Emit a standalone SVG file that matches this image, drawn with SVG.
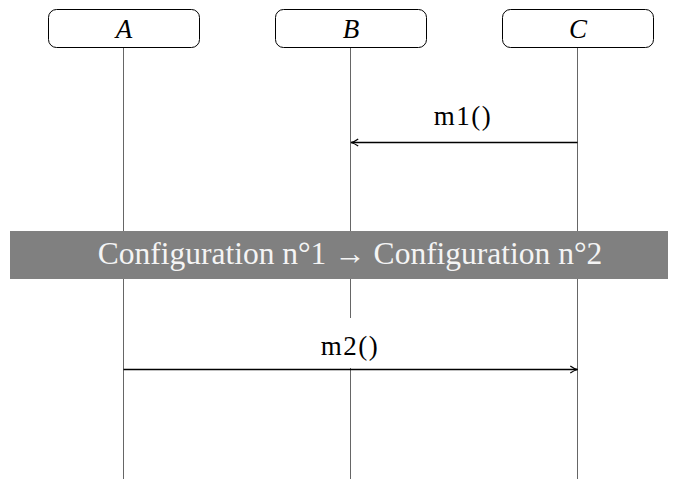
<svg xmlns="http://www.w3.org/2000/svg" width="678" height="479" viewBox="0 0 678 479">
<defs>
<style>
.box{fill:#fff;stroke:#000;stroke-width:1}
.life{stroke:#666;stroke-width:1}
.msg{stroke:#000;stroke-width:1.6;fill:none}
.t{font-family:"Liberation Serif",serif;font-size:27px;fill:#000;text-anchor:middle}
.it{font-style:italic}
.cfg{font-size:31.5px;fill:#f4f4f4}
</style>
<marker id="ah" viewBox="0 0 10 10" refX="9" refY="5" markerWidth="9" markerHeight="9" markerUnits="userSpaceOnUse" orient="auto">
<path d="M1,1 Q5,4 9,5 Q5,6 1,9" fill="none" stroke="#000" stroke-width="1.4"/>
</marker>
</defs>
<rect width="678" height="479" fill="#fff"/>
<g id="lifelines">
<line class="life" x1="123.5" y1="48" x2="123.5" y2="479"/>
<line class="life" x1="350.5" y1="48" x2="350.5" y2="479"/>
<line class="life" x1="577.5" y1="48" x2="577.5" y2="479"/>
</g>
<g id="A"><rect class="box" x="48.5" y="9.5" width="151" height="38" rx="8"/><text class="t it" x="124" y="38">A</text></g>
<g id="B"><rect class="box" x="275.5" y="9.5" width="151" height="38" rx="8"/><text class="t it" x="351" y="38">B</text></g>
<g id="C"><rect class="box" x="502.5" y="9.5" width="151" height="38" rx="8"/><text class="t it" x="578" y="38">C</text></g>
<g id="connectors">
<line class="msg" x1="577.5" y1="142.5" x2="351" y2="142.5" marker-end="url(#ah)"/>
<text class="t" x="463" y="125" letter-spacing="1.5">m1()</text>
<rect x="312" y="318" width="76" height="50" fill="#fff"/>
<line class="msg" x1="123.5" y1="369.5" x2="577.5" y2="369.5" marker-end="url(#ah)"/>
<text class="t" x="350" y="355" letter-spacing="1.5">m2()</text>
</g>
<g id="config">
<rect x="10" y="231" width="658" height="48" fill="#808080"/>
<text class="t cfg" x="350" y="264">Configuration n°1 → Configuration n°2</text>
</g>
</svg>
